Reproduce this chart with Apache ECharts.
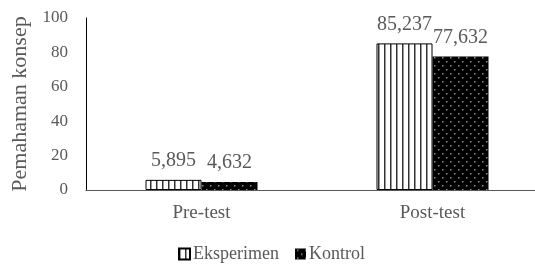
<!DOCTYPE html>
<html>
<head>
<meta charset="utf-8">
<script src="https://cdn.jsdelivr.net/npm/echarts@6/dist/echarts.min.js"></script>
<style>
  html, body { margin: 0; padding: 0; background: #ffffff; overflow: hidden; }
  /* a bit wider than the window: the x axis runs past the right edge in the reference */
  #chart { width: 560px; height: 265px; }
</style>
</head>
<body>
<div id="chart"></div>
<script>
// data
const categories = ["Pre-test", "Post-test"];
const eksperimen = [5.895, 85.237];
const kontrol = [4.632, 77.632];
const seriesNames = ["Eksperimen", "Kontrol"];

// fill patterns: vertical stripes and dotted black
function stripes() {
  const c = document.createElement("canvas");
  c.width = 6; c.height = 6;
  const ctx = c.getContext("2d");
  ctx.fillStyle = "#ffffff";
  ctx.fillRect(0, 0, 6, 6);
  ctx.fillStyle = "#333333";
  ctx.fillRect(0, 0, 1.5, 6);
  return c;
}
function dots() {
  const c = document.createElement("canvas");
  c.width = 8; c.height = 8;
  const ctx = c.getContext("2d");
  ctx.fillStyle = "#000000";
  ctx.fillRect(0, 0, 8, 8);
  ctx.fillStyle = "#909090";
  ctx.fillRect(2, 1, 1.5, 1.5);
  ctx.fillRect(6, 5, 1.5, 1.5);
  return c;
}

const font = "Liberation Serif";
const txt = "#595959";
const fmt = p => String(p.value).replace(".", ",");

var chart = echarts.init(document.getElementById("chart"));
chart.setOption({
  animation: false,
  textStyle: { fontFamily: font },
  grid: { left: 86, top: 18, width: 462, height: 172, containLabel: false },
  legend: {
    top: 245,
    left: 178,
    padding: 0,
    itemWidth: 11,
    itemHeight: 11,
    itemGap: 16,
    icon: "rect",
    textStyle: { fontFamily: font, fontSize: 18, color: txt, padding: [0, 0, 0, -2] },
    data: seriesNames
  },
  xAxis: {
    type: "category",
    data: categories,
    axisLine: { lineStyle: { color: "#595959", width: 1 } },
    axisTick: { show: false },
    axisLabel: { fontFamily: font, fontSize: 19, color: txt, margin: 14 }
  },
  yAxis: {
    type: "value",
    min: 0, max: 100, interval: 20,
    name: "Pemahaman konsep",
    nameLocation: "middle",
    nameGap: 50,
    nameTextStyle: { fontFamily: font, fontSize: 22, color: txt },
    axisLine: { show: true, lineStyle: { color: "#000000", width: 1 } },
    axisTick: { show: false },
    splitLine: { show: false },
    axisLabel: { fontFamily: font, fontSize: 17, color: txt, margin: 18 }
  },
  series: [
    {
      name: seriesNames[0],
      type: "bar",
      data: eksperimen,
      barWidth: 56,
      barGap: "0%",
      itemStyle: { color: { image: stripes(), repeat: "repeat" }, borderColor: "#000000", borderWidth: 1 },
      label: { show: true, position: "top", distance: 9, formatter: fmt, fontFamily: font, fontSize: 20, color: txt }
    },
    {
      name: seriesNames[1],
      type: "bar",
      data: kontrol,
      barWidth: 56,
      itemStyle: { color: { image: dots(), repeat: "repeat" } },
      label: { show: true, position: "top", distance: 9, formatter: fmt, fontFamily: font, fontSize: 20, color: txt }
    }
  ]
});
</script>
</body>
</html>
